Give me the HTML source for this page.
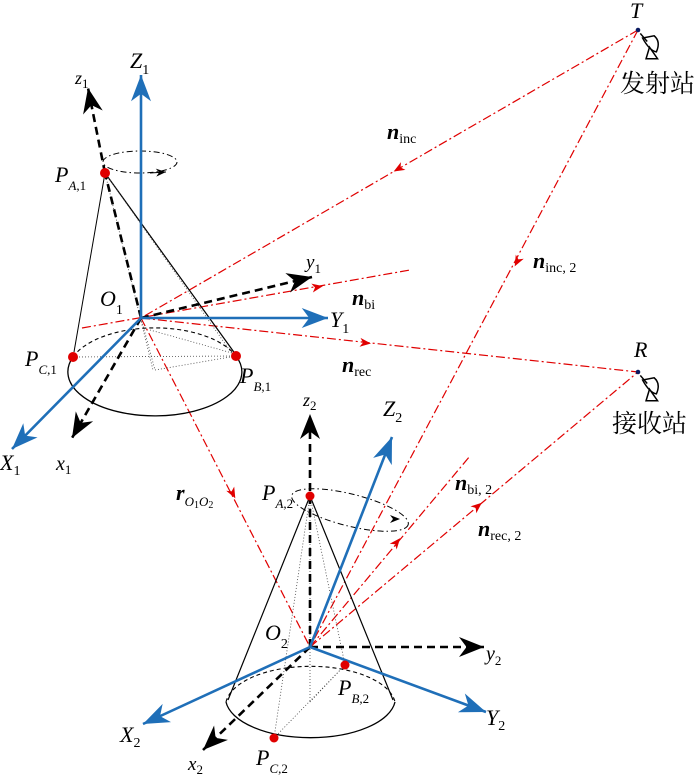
<!DOCTYPE html>
<html><head><meta charset="utf-8"><style>
html,body{margin:0;padding:0;background:#fff;}
svg{display:block;}
text{font-family:"Liberation Serif","Noto Serif CJK SC",serif;fill:#000;}
.i{font-style:italic;}
.b{font-weight:bold;font-style:italic;}
</style></head><body>
<svg width="700" height="778" viewBox="0 0 700 778" xmlns="http://www.w3.org/2000/svg">
<defs>
<marker id="ab" markerUnits="userSpaceOnUse" markerWidth="30" markerHeight="30" viewBox="-22 -10 24 20" refX="0" refY="0" orient="auto"><path d="M0,0 L-21,-8 L-15,0 L-21,8 Z" fill="#1f6fb8"/></marker>
<marker id="ak" markerUnits="userSpaceOnUse" markerWidth="30" markerHeight="30" viewBox="-22 -10 24 20" refX="0" refY="0" orient="auto"><path d="M0,0 L-20,-8 L-14,0 L-20,8 Z" fill="#000"/></marker>
<marker id="ar" markerUnits="userSpaceOnUse" markerWidth="14" markerHeight="14" viewBox="-12 -6 14 12" refX="-5" refY="0" orient="auto"><path d="M0,0 L-11,-4.5 L-8,0 L-11,4.5 Z" fill="#e00000"/></marker>
<marker id="as" markerUnits="userSpaceOnUse" markerWidth="14" markerHeight="14" viewBox="-12 -6 14 12" refX="0" refY="0" orient="auto"><path d="M0,0 L-10,-4 L-7,0 L-10,4 Z" fill="#000"/></marker>
</defs>

<g stroke="#e00000" stroke-width="1.2" fill="none" stroke-dasharray="9,3,2,3">
<line x1="638" y1="30" x2="141" y2="318"/>
<line x1="638" y1="30" x2="310" y2="647"/>
<line x1="82" y1="328" x2="410" y2="270"/>
<line x1="141" y1="318" x2="638" y2="372"/>
<line x1="141" y1="318" x2="310" y2="647"/>
<line x1="310" y1="647" x2="470" y2="456"/>
<line x1="310" y1="647" x2="638" y2="372"/>
</g>
<g stroke="none">
<line x1="638" y1="30" x2="398" y2="169" marker-end="url(#ar)"/>
<line x1="638" y1="30" x2="517" y2="262" marker-end="url(#ar)"/>
<line x1="141" y1="318" x2="318" y2="287" marker-end="url(#ar)"/>
<line x1="141" y1="318" x2="366" y2="343" marker-end="url(#ar)"/>
<line x1="141" y1="318" x2="233" y2="494" marker-end="url(#ar)"/>
<line x1="310" y1="647" x2="397" y2="542" marker-end="url(#ar)"/>
<line x1="310" y1="647" x2="478" y2="506" marker-end="url(#ar)"/>
</g>

<g stroke="#000" fill="none">
<line x1="105" y1="173" x2="74" y2="352" stroke-width="1"/>
<line x1="105" y1="173" x2="236" y2="355" stroke-width="1.2"/>
<path d="M73,357 A87,44 0 1 0 236,356" stroke-width="1.3"/>
<path d="M73,357 A87,44 0 0 1 236,356" stroke-width="1.1" stroke-dasharray="4,3"/>
<g stroke-width="0.8" stroke-dasharray="1,2" stroke="#444">
<line x1="105" y1="173" x2="153" y2="370"/>
<line x1="105" y1="173" x2="233" y2="355"/>
<line x1="73" y1="357" x2="236" y2="356"/>
<line x1="141" y1="318" x2="155" y2="370"/>
<line x1="155" y1="370" x2="236" y2="356"/>
<line x1="150" y1="330" x2="232" y2="353"/>
</g>
<ellipse cx="140" cy="162" rx="37" ry="11" stroke-width="1" stroke-dasharray="6,3,1.5,3"/>
<line x1="150" y1="173" x2="166" y2="172" stroke-width="1" marker-end="url(#as)"/>
</g>
<g stroke-width="2.6" fill="none">
<line x1="141" y1="318" x2="105" y2="173" stroke="#000" stroke-dasharray="8,5"/>
<line x1="105" y1="173" x2="88" y2="88" stroke="#000" stroke-dasharray="8,5" marker-end="url(#ak)"/>
<line x1="141" y1="318" x2="312" y2="277" stroke="#000" stroke-dasharray="8,5" marker-end="url(#ak)"/>
<line x1="141" y1="318" x2="72" y2="438" stroke="#000" stroke-dasharray="8,5" marker-end="url(#ak)"/>
<line x1="141" y1="318" x2="141" y2="75" stroke="#1f6fb8" marker-end="url(#ab)"/>
<line x1="141" y1="318" x2="328" y2="318" stroke="#1f6fb8" marker-end="url(#ab)"/>
<line x1="141" y1="318" x2="12" y2="449" stroke="#1f6fb8" marker-end="url(#ab)"/>
</g>
<g fill="#e00000"><circle cx="105" cy="173" r="5"/><circle cx="73" cy="357" r="5"/><circle cx="236" cy="356" r="5"/></g>

<g stroke="#000" fill="none">
<line x1="310" y1="496" x2="228" y2="700" stroke-width="1.2"/>
<line x1="310" y1="496" x2="393" y2="700" stroke-width="1.2"/>
<path d="M226,702 A85,40 0 0 0 395,702" stroke-width="1.3"/>
<path d="M226,702 A85,40 0 0 1 395,702" stroke-width="1.1" stroke-dasharray="4,3"/>
<g stroke-width="0.8" stroke-dasharray="1,2" stroke="#444">
<line x1="310" y1="496" x2="274" y2="738"/>
<line x1="310" y1="496" x2="345" y2="665"/>
<line x1="310" y1="496" x2="310" y2="702"/>
<line x1="274" y1="738" x2="345" y2="665"/>
<line x1="310" y1="702" x2="345" y2="665"/>
</g>
<ellipse cx="350" cy="510" rx="60" ry="16" transform="rotate(14 350 510)" stroke-width="1" stroke-dasharray="6,3,1.5,3"/>
<line x1="355" y1="519" x2="400" y2="519" stroke="none" marker-end="url(#as)"/>
</g>
<g stroke-width="2.6" fill="none">
<line x1="310" y1="647" x2="310" y2="414" stroke="#000" stroke-dasharray="8,5" marker-end="url(#ak)"/>
<line x1="310" y1="647" x2="484" y2="647" stroke="#000" stroke-dasharray="8,5" marker-end="url(#ak)"/>
<line x1="310" y1="647" x2="203" y2="750" stroke="#000" stroke-dasharray="8,5" marker-end="url(#ak)"/>
<line x1="310" y1="647" x2="392" y2="437" stroke="#1f6fb8" marker-end="url(#ab)"/>
<line x1="310" y1="647" x2="486" y2="712" stroke="#1f6fb8" marker-end="url(#ab)"/>
<line x1="310" y1="647" x2="143" y2="724" stroke="#1f6fb8" marker-end="url(#ab)"/>
</g>
<g fill="#e00000"><circle cx="310" cy="496" r="4.5"/><circle cx="345" cy="665" r="4.5"/><circle cx="274" cy="738" r="4.5"/></g>

<g stroke="#000" stroke-width="1.3" fill="#fff">
<g transform="translate(638,30) scale(1.15)">
<circle cx="0" cy="0" r="2" fill="#0a1a60" stroke="none"/>
<path d="M4,7 Q10,18 16,19 Q20,10 14,5 Z"/>
<path d="M10,15 L7,25 L17,25 Z"/>
<line x1="2" y1="3" x2="8" y2="10"/>
</g>
<g transform="translate(638,372) scale(1.15)">
<circle cx="0" cy="0" r="2" fill="#0a1a60" stroke="none"/>
<path d="M4,7 Q10,18 16,19 Q20,10 14,5 Z"/>
<path d="M10,15 L7,25 L17,25 Z"/>
<line x1="2" y1="3" x2="8" y2="10"/>
</g>
</g>

<g font-size="22">
<text x="630" y="18" class="i">T</text>
<text x="634" y="357" class="i">R</text>
<text x="130" y="68" class="i">Z<tspan font-size="14" font-style="normal" dy="6">1</tspan></text>
<text x="75" y="84" class="i" font-size="18">z<tspan font-size="13" font-style="normal" dy="4">1</tspan></text>
<text x="55" y="182" class="i">P<tspan font-size="13" dy="8">A</tspan><tspan font-size="13" font-style="normal">,1</tspan></text>
<text x="100" y="306" class="i">O<tspan font-size="14" font-style="normal" dy="8">1</tspan></text>
<text x="25" y="366" class="i">P<tspan font-size="13" dy="8">C</tspan><tspan font-size="13" font-style="normal">,1</tspan></text>
<text x="240" y="383" class="i">P<tspan font-size="13" dy="8">B</tspan><tspan font-size="13" font-style="normal">,1</tspan></text>
<text x="306" y="268" class="i" font-size="19">y<tspan font-size="13" font-style="normal" dy="5">1</tspan></text>
<text x="330" y="327" class="i">Y<tspan font-size="14" font-style="normal" dy="6">1</tspan></text>
<text x="0" y="470" class="i">X<tspan font-size="14" font-style="normal" dy="5">1</tspan></text>
<text x="56" y="470" class="i" font-size="20">x<tspan font-size="13" font-style="normal" dy="4">1</tspan></text>
<text x="387" y="139" class="b">n<tspan font-size="14" font-weight="normal" font-style="normal" dy="4">inc</tspan></text>
<text x="352" y="305" class="b">n<tspan font-size="14" font-weight="normal" font-style="normal" dy="4">bi</tspan></text>
<text x="342" y="372" class="b">n<tspan font-size="14" font-weight="normal" font-style="normal" dy="4">rec</tspan></text>
<text x="533" y="268" class="b">n<tspan font-size="14" font-weight="normal" font-style="normal" dy="4">inc, 2</tspan></text>
<text x="455" y="490" class="b">n<tspan font-size="14" font-weight="normal" font-style="normal" dy="4">bi, 2</tspan></text>
<text x="478" y="536" class="b">n<tspan font-size="14" font-weight="normal" font-style="normal" dy="4">rec, 2</tspan></text>
<text x="176" y="500" class="b">r<tspan font-size="13" font-weight="normal" dy="6">O</tspan><tspan font-size="10" font-weight="normal" font-style="normal" dy="2">1</tspan><tspan font-size="13" font-weight="normal" dy="-2">O</tspan><tspan font-size="10" font-weight="normal" font-style="normal" dy="2">2</tspan></text>
<text x="303" y="406" class="i" font-size="18">z<tspan font-size="13" font-style="normal" dy="4">2</tspan></text>
<text x="383" y="416" class="i">Z<tspan font-size="14" font-style="normal" dy="6">2</tspan></text>
<text x="262" y="500" class="i">P<tspan font-size="13" dy="8">A</tspan><tspan font-size="13" font-style="normal">,2</tspan></text>
<text x="265" y="640" class="i">O<tspan font-size="14" font-style="normal" dy="8">2</tspan></text>
<text x="486" y="660" class="i" font-size="20">y<tspan font-size="13" font-style="normal" dy="5">2</tspan></text>
<text x="486" y="725" class="i">Y<tspan font-size="14" font-style="normal" dy="5">2</tspan></text>
<text x="120" y="742" class="i">X<tspan font-size="14" font-style="normal" dy="5">2</tspan></text>
<text x="188" y="770" class="i" font-size="19">x<tspan font-size="13" font-style="normal" dy="4">2</tspan></text>
<text x="338" y="695" class="i">P<tspan font-size="13" dy="8">B</tspan><tspan font-size="13" font-style="normal">,2</tspan></text>
<text x="256" y="765" class="i">P<tspan font-size="13" dy="8">C</tspan><tspan font-size="13" font-style="normal">,2</tspan></text>
</g>
<g font-size="25" style="font-family:'Noto Serif CJK SC','Noto Sans CJK SC',serif">
<text x="620" y="92">发射站</text>
<text x="612" y="432">接收站</text>
</g>
</svg>
</body></html>
